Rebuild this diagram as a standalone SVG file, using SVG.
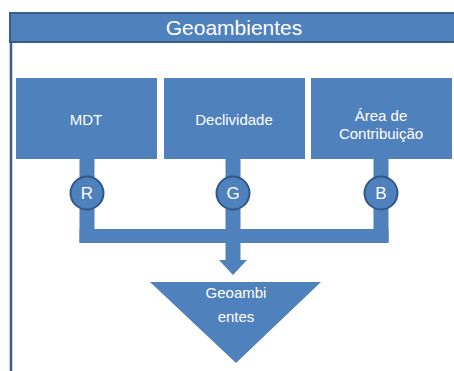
<svg xmlns="http://www.w3.org/2000/svg" width="454" height="371" viewBox="0 0 454 371">
<style>
.box{fill:#4F81BD;}
.lbl{fill:#ffffff;font-family:"Liberation Sans",Arial,sans-serif;font-size:15px;text-anchor:middle;}
.circ{fill:#4F81BD;stroke:#2F5888;stroke-width:2;}
.let{fill:#ffffff;font-family:"Liberation Sans",Arial,sans-serif;font-size:17px;text-anchor:middle;}
.conn{fill:#4F81BD;}
</style>
<rect x="0" y="0" width="454" height="371" fill="#ffffff"/>
<g id="frame">
<rect x="11" y="14" width="460" height="400" fill="none" stroke="#3D5C8C" stroke-width="2.5"/>
<rect x="10" y="13" width="460" height="29" fill="#4F81BD" stroke="#385D8A" stroke-width="2"/>
<text x="234" y="35" fill="#ffffff" font-family="'Liberation Sans',Arial,sans-serif" font-size="21" text-anchor="middle">Geoambientes</text>
</g>
<g id="connectors">
<rect class="conn" x="79.5" y="158" width="15" height="85"/>
<rect class="conn" x="225.5" y="158" width="15" height="103"/>
<rect class="conn" x="373.5" y="158" width="15" height="85"/>
<rect class="conn" x="79.5" y="229" width="309" height="14"/>
<polygon class="conn" points="219,260 247,260 233,275"/>
</g>
<g id="mdt">
<rect class="box" x="16" y="78" width="141" height="81"/>
<text class="lbl" x="86" y="125">MDT</text>
</g>
<g id="declividade">
<rect class="box" x="164" y="78" width="141" height="81"/>
<text class="lbl" x="234" y="125">Declividade</text>
</g>
<g id="area">
<rect class="box" x="311" y="78" width="141" height="81"/>
<text class="lbl" x="381" y="121">Área de</text>
<text class="lbl" x="381" y="139">Contribuição</text>
</g>
<g id="r">
<circle class="circ" cx="87" cy="193" r="16.5"/>
<text class="let" x="87" y="199">R</text>
</g>
<g id="g">
<circle class="circ" cx="233" cy="193" r="16.5"/>
<text class="let" x="233" y="199">G</text>
</g>
<g id="b">
<circle class="circ" cx="381" cy="193" r="16.5"/>
<text class="let" x="381" y="199">B</text>
</g>
<g id="geoambientes">
<polygon class="box" points="150,282 321,282 236,363"/>
<text class="lbl" x="236" y="298">Geoambi</text>
<text class="lbl" x="236" y="322">entes</text>
</g>
</svg>
